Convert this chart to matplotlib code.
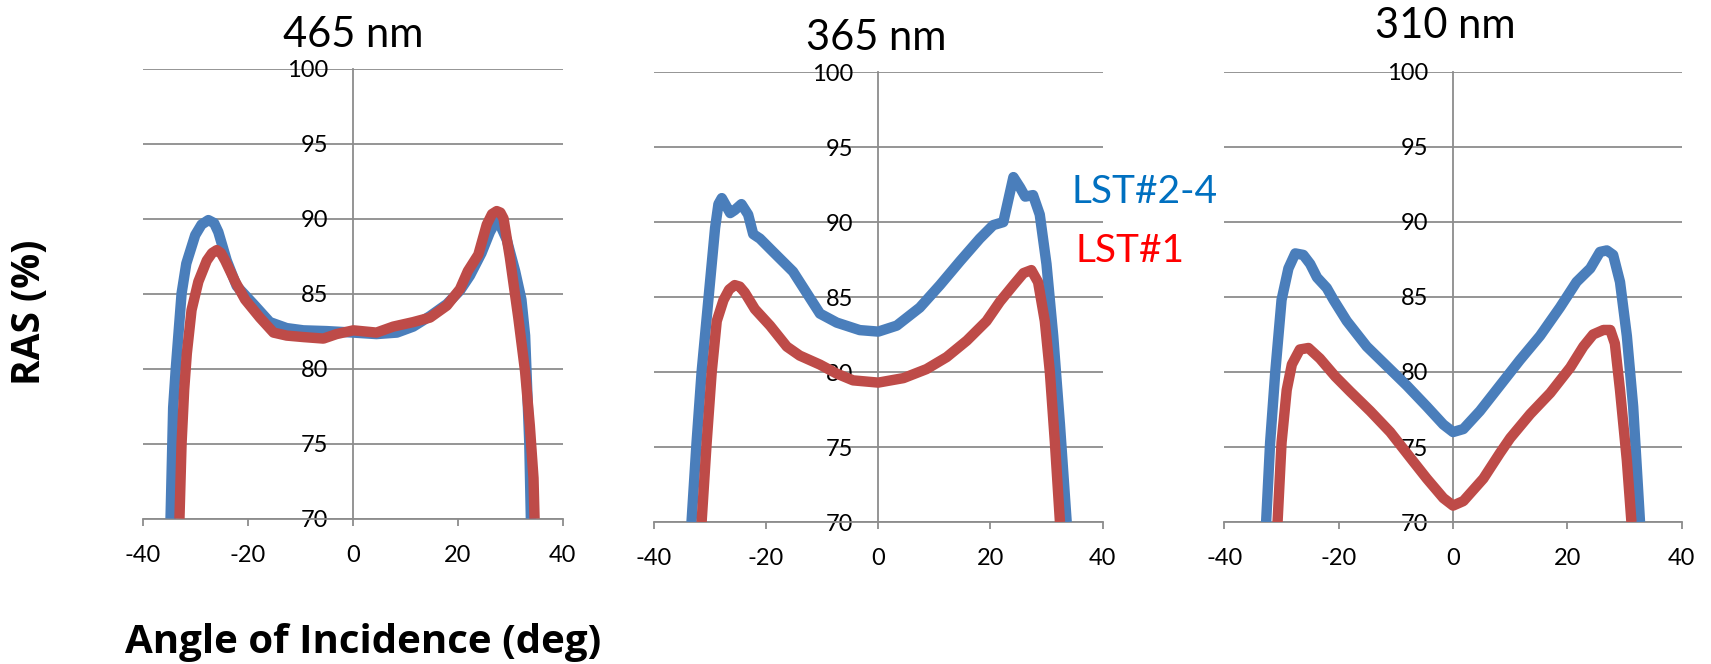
import matplotlib
matplotlib.use("Agg")
import matplotlib.pyplot as plt

plt.rcParams['font.family'] = ['Lato', 'DejaVu Sans']

# ---- data (angle of incidence in deg, RAS in %) ----
titles = ["465 nm", "365 nm", "310 nm"]
xticks = [-40, -20, 0, 20, 40]
yticks = [70, 75, 80, 85, 90, 95, 100]

# 465 nm
x465_blue = [-34.7, -34.2, -33.7, -32.6, -31.7, -30.0, -28.8, -27.5, -26.4, -25.6, -24.0, -22.1, -18.9, -15.8, -12.6, -9.4,
             -5.0, 0.1, 4.5, 8.4, 11.5, 14.7, 17.9, 20.4, 22.3, 24.5, 26.1, 27.5, 29.3, 30.9, 32.1, 32.8,
             33.2, 33.6, 33.9]
y465_blue = [70, 77.4, 80.0, 85.0, 87.0, 88.9, 89.6, 89.9, 89.7, 89.1, 87.2, 85.5, 84.3, 83.1, 82.7, 82.55,
             82.5, 82.4, 82.3, 82.4, 82.8, 83.5, 84.3, 85.2, 86.2, 87.7, 89.1, 90.0, 88.6, 86.5, 84.6, 82.2,
             78.6, 75.0, 70]
x465_red = [-33.0, -32.6, -32.1, -31.6, -30.7, -29.4, -27.8, -26.8, -25.9, -25.1, -24.3, -22.4, -20.5, -17.7, -15.1, -12.6,
            -9.4, -5.6, -3.1, 0.1, 4.5, 7.7, 11.5, 14.7, 17.9, 20.4, 21.9, 23.9, 25.5, 26.5, 27.4, 28.1, 28.7, 29.9,
            31.5, 32.8, 33.7, 34.4, 34.6]
y465_red = [70, 75.0, 78.6, 81.0, 83.9, 85.8, 87.2, 87.7, 87.9, 87.7, 87.2, 85.8, 84.6, 83.4, 82.4, 82.2,
            82.1, 82.0, 82.3, 82.55, 82.4, 82.8, 83.1, 83.4, 84.2, 85.3, 86.5, 87.6, 89.6, 90.3, 90.5, 90.4, 90.0, 87.4,
            83.4, 79.8, 76.2, 72.7, 70]

# 365 nm
x365_blue = [-33.3, -32.4, -31.5, -30.3, -29.1, -28.5, -27.9, -26.4, -25.6, -24.4, -23.2, -22.3, -21.1, -18.7,
             -15.2, -12.8, -10.4, -7.4, -3.3, 0.0, 3.3, 7.4, 11.0, 14.6, 18.1, 20.5, 22.3, 23.2, 24.1, 25.3,
             26.2, 27.6, 28.8, 30.0, 31.2, 32.4, 33.6]
y365_blue = [70, 75.3, 80.0, 84.8, 89.6, 91.2, 91.6, 90.6, 90.8, 91.2, 90.5, 89.2, 88.9, 88.0,
             86.7, 85.3, 83.9, 83.3, 82.8, 82.7, 83.1, 84.3, 85.8, 87.4, 88.9, 89.8, 90.0, 91.5, 93.0, 92.3,
             91.7, 91.8, 90.5, 87.2, 82.4, 76.5, 70]
x365_red = [-31.5, -30.6, -29.7, -28.8, -27.6, -26.6, -25.6, -24.7, -23.8, -22.0, -19.3, -16.3, -14.0, -10.4, -7.4, -4.5,
            0.0, 4.5, 8.6, 12.2, 15.8, 19.3, 21.7, 24.1, 25.9, 27.3, 28.5, 29.7, 30.6, 31.5, 32.4]
y365_red = [70, 75.3, 80.0, 83.4, 84.8, 85.5, 85.8, 85.7, 85.3, 84.2, 83.1, 81.7, 81.1, 80.5, 79.9, 79.45,
            79.3, 79.6, 80.2, 81.0, 82.1, 83.4, 84.7, 85.8, 86.6, 86.8, 86.0, 83.4, 80.0, 75.3, 70]

# 310 nm
x310_blue = [-32.7, -32.0, -31.1, -30.0, -28.8, -27.6, -26.2, -25.0, -23.8, -22.1, -20.9, -18.6, -15.1, -11.6,
             -8.1, -4.6, -1.7, 0.0, 1.8, 4.7, 8.2, 11.7, 15.2, 18.7, 21.6, 24.0, 25.7, 26.9, 28.0, 29.2,
             30.4, 31.5, 32.7]
y310_blue = [70, 75.3, 80.0, 84.8, 86.9, 87.9, 87.8, 87.2, 86.3, 85.6, 84.8, 83.4, 81.7, 80.4,
             79.1, 77.7, 76.5, 76.0, 76.2, 77.4, 79.1, 80.8, 82.4, 84.3, 86.0, 86.9, 88.0, 88.1, 87.8, 86.0,
             82.4, 77.7, 70]
x310_red = [-30.7, -30.0, -29.1, -28.2, -26.8, -25.3, -23.3, -20.6, -18.0, -14.5, -11.0, -7.5, -4.6, -1.7,
            0.0, 1.8, 5.3, 8.2, 10.0, 13.5, 17.0, 20.5, 22.8, 24.5, 26.3, 27.5, 28.3, 29.2, 30.4, 31.2]
y310_red = [70, 75.3, 78.8, 80.5, 81.5, 81.6, 80.9, 79.7, 78.7, 77.4, 76.0, 74.3, 72.9, 71.6,
            71.1, 71.4, 72.9, 74.6, 75.6, 77.2, 78.6, 80.3, 81.7, 82.5, 82.8, 82.8, 81.9, 78.8, 74.1, 70]

series = [
    ((x465_blue, y465_blue), (x465_red, y465_red)),
    ((x365_blue, y365_blue), (x365_red, y365_red)),
    ((x310_blue, y310_blue), (x310_red, y310_red)),
]

BLUE = '#4A7EBB'
RED = '#BE4B48'
GRID = '#8C8C8C'

fig = plt.figure(figsize=(17.11, 6.64), dpi=100)

axes_pos = [
    [0.0834, 0.2190, 0.2456, 0.6777],
    [0.3822, 0.2137, 0.2622, 0.6777],
    [0.7156, 0.2137, 0.2673, 0.6782],
]
title_pos = [(0.2063, 0.929), (0.512, 0.925), (0.845, 0.943)]

for i, pos in enumerate(axes_pos):
    ax = fig.add_axes(pos)
    (xb, yb), (xr, yr) = series[i]
    ax.plot(xb, yb, color=BLUE, lw=7.5, solid_joinstyle='round', solid_capstyle='butt', zorder=3)
    ax.plot(xr, yr, color=RED, lw=7.5, solid_joinstyle='round', solid_capstyle='butt', zorder=4)
    ax.set_xlim(-40, 40)
    ax.set_ylim(70, 100)
    ax.set_xticks(xticks)
    ax.set_yticks(yticks)
    ax.set_xticklabels([str(v) for v in xticks])
    ax.set_yticklabels([str(v) for v in yticks])
    for s in ['top', 'right']:
        ax.spines[s].set_visible(False)
    ax.spines['left'].set_position(('data', 0))
    ax.spines['left'].set_color(GRID)
    ax.spines['left'].set_linewidth(1.3)
    ax.spines['bottom'].set_color(GRID)
    ax.spines['bottom'].set_linewidth(1.3)
    ax.yaxis.grid(True, color=GRID, lw=1.3)
    ax.set_axisbelow(True)
    ax.tick_params(axis='y', length=0, pad=18, labelsize=17)
    ax.tick_params(axis='x', direction='out', length=5, width=1.3, color=GRID, pad=14, labelsize=17)
    fig.text(title_pos[i][0], title_pos[i][1], titles[i], ha='center', va='baseline', fontsize=30)

fig.text(0.6265, 0.694, "LST#2-4", color='#0070C0', fontsize=28, ha='left', va='baseline')
fig.text(0.6283, 0.6054, "LST#1", color='#FF0000', fontsize=28, ha='left', va='baseline')

fig.text(0.0175, 1 - 385 / 664, "RAS (%)", rotation=90, fontsize=28, fontweight='bold',
         family=['Open Sans', 'DejaVu Sans'], ha='center', va='bottom')
fig.text(0.073, 11 / 664, "Angle of Incidence (deg)", fontsize=29, fontweight='bold',
         family=['Open Sans', 'DejaVu Sans'], ha='left', va='baseline')

fig.savefig("out.png", dpi=100)
